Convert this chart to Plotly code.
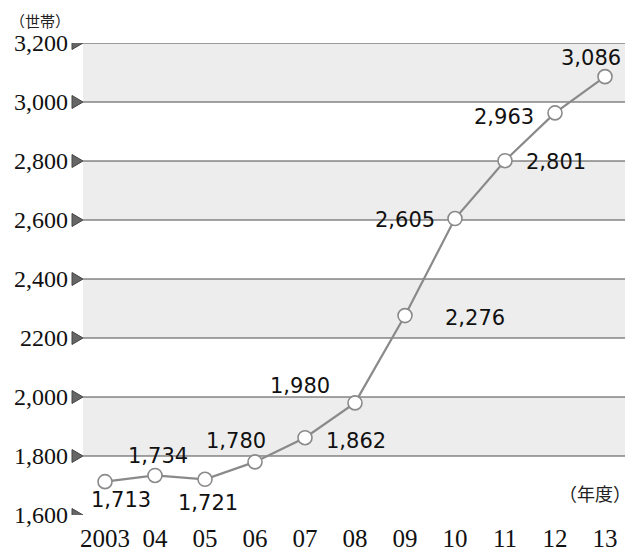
import plotly.graph_objects as go

# ---- data ----
years = [2003, 2004, 2005, 2006, 2007, 2008, 2009, 2010, 2011, 2012, 2013]
year_labels = ["2003", "04", "05", "06", "07", "08", "09", "10", "11", "12", "13"]
households = [1713, 1734, 1721, 1780, 1862, 1980, 2276, 2605, 2801, 2963, 3086]
value_labels = ["1,713", "1,734", "1,721", "1,780", "1,862", "1,980",
                "2,276", "2,605", "2,801", "2,963", "3,086"]
y_ticks = [1600, 1800, 2000, 2200, 2400, 2600, 2800, 3000, 3200]
y_tick_labels = ["1,600", "1,800", "2,000", "2200", "2,400", "2,600", "2,800", "3,000", "3,200"]

# label offsets (pixels) for each value label
label_shift = [(16, -18), (3, 19), (3, -24), (-19, 21), (51, -3), (-55, 17),
               (70, -2), (-50, -1), (51, -1), (-51, -4), (-14, 19)]

X_RANGE = [2002.56, 2013.56]
Y_RANGE = [1600, 3200]

fig = go.Figure()

shapes = []
# shaded bands
for lo in [1800, 2200, 2600, 3000]:
    shapes.append(dict(type="rect", xref="paper", yref="y", x0=0, x1=1, y0=lo, y1=lo + 200,
                       fillcolor="#ededed", line=dict(width=0), layer="below"))
# grid lines
for v in y_ticks[1:]:
    shapes.append(dict(type="line", xref="paper", yref="y", x0=0, x1=1, y0=v, y1=v,
                       line=dict(color="#4a4a4a", width=1), layer="below"))
# triangles at the axis
for v in y_ticks:
    shapes.append(dict(type="path", xref="paper", yref="y",
                       path=f"M -0.0200,{v + 22} L 0.0,{v} L -0.0200,{v - 22} Z",
                       fillcolor="#666666", line=dict(color="#444444", width=1)))

# line
fig.add_trace(go.Scatter(
    x=years, y=households, mode="lines+markers",
    line=dict(color="#8a8a8a", width=2.2),
    marker=dict(symbol="circle", size=14, color="white",
                line=dict(color="#8a8a8a", width=1.6)),
    cliponaxis=False, showlegend=False))

annotations = []
for x, y, t, (dx, dy) in zip(years, households, value_labels, label_shift):
    annotations.append(dict(x=x, y=y, text=t, showarrow=False, xshift=dx, yshift=dy,
                            font=dict(family="DejaVu Sans", size=21, color="#111")))

annotations.append(dict(xref="paper", yref="paper", x=-0.1364, y=1.0742, text="（世帯）",
                        showarrow=False, xanchor="left", yanchor="top",
                        font=dict(family="Noto Sans CJK JP", size=15, color="#222")))
annotations.append(dict(xref="paper", yref="paper", x=1.0, y=0.047, text="（年度）",
                        showarrow=False, xanchor="right", yanchor="middle",
                        font=dict(family="Noto Sans CJK JP", size=18, color="#222")))

# page body has an 8px margin: figure sized/offset to fit the 633x553 window
fig.update_layout(
    width=625, height=545,
    margin=dict(l=75, r=0, t=35, b=38, autoexpand=False),
    paper_bgcolor="white", plot_bgcolor="white",
    shapes=shapes, annotations=annotations,
    xaxis=dict(range=X_RANGE, tickvals=years, ticktext=year_labels, automargin=False,
               showgrid=False, zeroline=False, showline=False,
               ticks="", ticklabelstandoff=6,
               tickfont=dict(family="Liberation Serif", size=25, color="#111")),
    yaxis=dict(range=Y_RANGE, tickvals=y_ticks, ticktext=y_tick_labels, automargin=False,
               showgrid=False, zeroline=False, showline=False,
               ticks="", ticklabelstandoff=14,
               tickfont=dict(family="Liberation Serif", size=24, color="#111")),
)

fig.write_html("out.html")
